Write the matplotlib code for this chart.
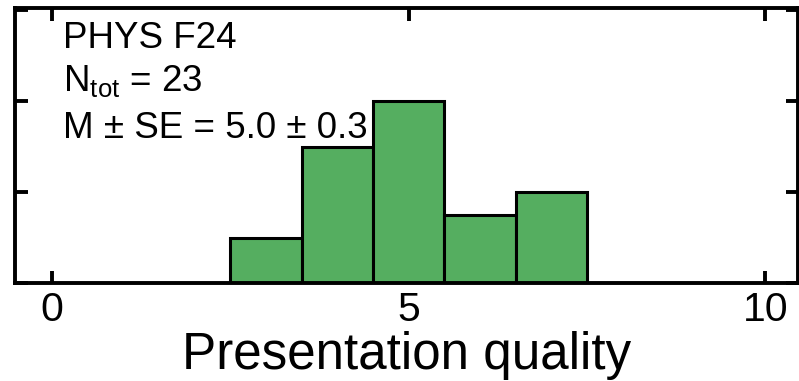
import numpy as np
import matplotlib.pyplot as plt

plt.rcParams['font.family'] = ['Liberation Sans', 'DejaVu Sans']

# histogram counts per score bin
scores = [3, 4, 5, 6, 7]
counts = [2, 6, 8, 3, 4]
course = 'PHYS F24'
n_tot = 23
mean_val = 5.0
se_val = 0.3
xticks = [0, 5, 10]
yticks = [0, 4, 8, 12]

def main():
	fig = plt.figure(figsize=(7.99, 3.81), dpi=100)
	ax = fig.add_axes([15/799, 98/381, 783/799, 275/381])

	ax.bar(scores, counts, width=1.0, align='center', color='#55ae60',
		edgecolor='black', linewidth=2.2, zorder=2)

	ax.set_xlim(-0.52, 10.46)
	ax.set_ylim(0, 12.1)
	ax.set_xticks(xticks)
	ax.set_yticks(yticks)
	ax.set_yticklabels([])
	ax.tick_params(axis='both', which='major', direction='in', length=9, width=2.8,
		top=True, right=True, labelsize=29.5, pad=6)
	for sp in ax.spines.values():
		sp.set_linewidth(2.8)

	ax.set_xlabel('Presentation quality', fontsize=36.8, labelpad=1)

	tx = 0.061
	fs = 26.5
	ax.text(tx, 0.855, course, transform=ax.transAxes, fontsize=fs, va='baseline')
	ax.text(tx, 0.695, r'N$_{\mathregular{tot}}$ = %d' % n_tot, transform=ax.transAxes,
		fontsize=fs, va='baseline')
	ax.text(tx, 0.527, u'M \u00b1 SE = %.1f \u00b1 %.1f' % (mean_val, se_val),
		transform=ax.transAxes, fontsize=fs, va='baseline')

	fig.savefig('out.png', dpi=100)

main()
